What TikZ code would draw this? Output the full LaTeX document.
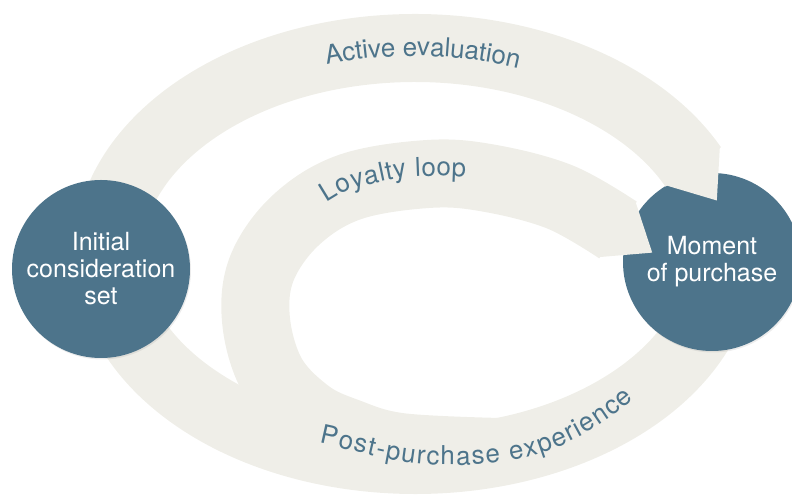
\documentclass[tikz,border=0pt]{standalone}
\usepackage{fontspec}
\setmainfont{TeX Gyre Heros}
\usetikzlibrary{decorations.markings,decorations.text,shadows}
\definecolor{fBand}{RGB}{239,238,232}
\definecolor{dTeal}{RGB}{77,116,139}
\newcommand\bandfont{\fontsize{26}{30}\selectfont\color{dTeal}}

\begin{document}
\begin{tikzpicture}[x=1pt,y=1pt,
  hub/.style={circle,fill=dTeal,text=white,align=center,inner sep=0pt,minimum size=178pt,font=\fontsize{25}{27}\selectfont,
    drop shadow={shadow xshift=1pt,shadow yshift=-1.5pt,opacity=.15}},
  band/.style={draw=fBand,line width=68pt},
  pointed/.style={postaction={decorate,decoration={markings,
    mark=at position -1pt with {\fill[fBand] (-1,34) -- (42,0) -- (-1,-34) -- cycle;}}}},
  lbl/.style={decorate,decoration={text along path,text={|\bandfont|#1},text align=fit to path,raise=-8pt}}]
\useasboundingbox (0,0) rectangle (792,497);
\coordinate (ring) at (415,243);
% post-purchase band runs under the right circle
\draw[band] (ring) ++(-5:307 and 206) arc[start angle=-5,end angle=-178,x radius=307,y radius=206];
\node[hub] (moment) at (712,235) {Moment\\of purchase};
% active evaluation over the top, loyalty loop on the inside
\draw[band,pointed] (ring) ++(185:307 and 206) arc[start angle=185,end angle=25,x radius=307,y radius=206];
\draw[band,pointed] plot[smooth,tension=.6] coordinates {(500,45) (400,50) (347,65) (308,84) (272,122) (256,177) (262,229) (296,277) (350,310) (428,323) (488,319) (560,300) (618,267)};
\node[hub] (init) at (101,228) {Initial\\consideration\\set};
% band labels
\path[lbl={Active evaluation}] (ring) ++(107:307 and 206) arc[start angle=107,end angle=70,x radius=307,y radius=206];
\path[lbl={Loyalty loop},decoration={raise=-2pt}] plot[smooth] coordinates {(326,296) (352,310) (400,321) (430,323) (466,322)};
\path[lbl={Post-purchase experience},decoration={raise=0pt}] (319,54) to[out=-12,in=180] (450,32) to[out=0,in=-140] (634,98);
\end{tikzpicture}
\end{document}
